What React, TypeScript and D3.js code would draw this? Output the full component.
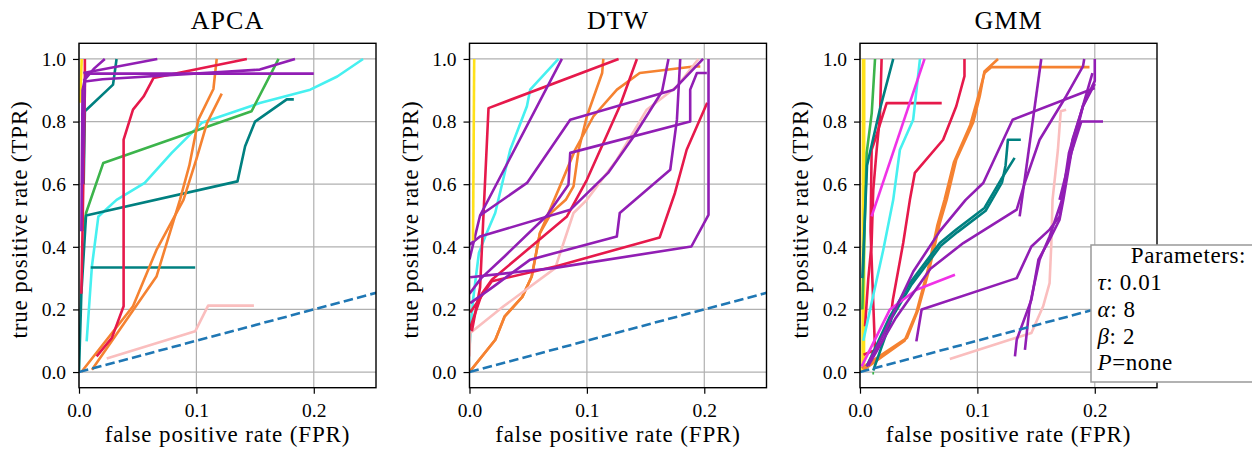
import React, { useEffect, useRef } from 'react';
import * as d3 from 'd3';

type Curve = { c: string; pts: [number, number][] };

const panelTitles = ['APCA', 'DTW', 'GMM'];
const xTicks = [0, 0.1, 0.2];
const yTicks = [0, 0.2, 0.4, 0.6, 0.8, 1.0];
const xLabel = 'false positive rate (FPR)';
const yLabel = 'true positive rate (TPR)';
const chanceLine: [number, number][] = [[0, 0], [0.26, 0.26]];

// legend text: [italic symbol, rest]
const paramRows: [string, string][] = [
  ['τ', ': 0.01'],
  ['α', ': 8'],
  ['β', ': 2'],
  ['P', '=none'],
];

const palette: Record<string, string> = {
  yellow: '#ffe119',
  red: '#e6194b',
  orange: '#f58231',
  cyan: '#46f0f0',
  green: '#3cb44b',
  teal: '#008080',
  purple: '#911eb4',
  pink: '#fabebe',
  magenta: '#f032e6',
};

const apcaCurves: Curve[] = [
  { c: 'cyan', pts: [[0.0065, 0.098], [0.011, 0.338], [0.0165, 0.497], [0.032, 0.55], [0.056, 0.604], [0.079, 0.70], [0.1046, 0.796], [0.154, 0.859], [0.197, 0.902], [0.22, 0.944], [0.242, 1.0]] },
  { c: 'green', pts: [[0.004, 0.45], [0.006, 0.508], [0.0207, 0.668], [0.147, 0.833], [0.17, 1.0]] },
  { c: 'teal', pts: [[0, 0], [0.002, 0.25], [0.006, 0.5], [0.135, 0.609], [0.1415, 0.721], [0.15, 0.80], [0.177, 0.871], [0.183, 0.871]] },
  { c: 'teal', pts: [[0.004, 0.6], [0.005, 0.833], [0.029, 0.918], [0.032, 1.0]] },
  { c: 'teal', pts: [[0.01, 0.334], [0.099, 0.334]] },
  { c: 'orange', pts: [[0.002, 0.0], [0.046, 0.21], [0.066, 0.39], [0.089, 0.55], [0.1, 0.68], [0.109, 0.795], [0.1216, 0.889]] },
  { c: 'orange', pts: [[0.011, 0.007], [0.066, 0.305], [0.086, 0.55], [0.094, 0.66], [0.1017, 0.806], [0.1145, 0.904], [0.1173, 1.0]] },
  { c: 'pink', pts: [[0.0236, 0.043], [0.099, 0.13], [0.11, 0.212], [0.149, 0.212]] },
  { c: 'red', pts: [[0.002, 0.25], [0.003, 0.45], [0.005, 0.9], [0.005, 1.0]] },
  { c: 'red', pts: [[0.015, 0.05], [0.028, 0.109], [0.038, 0.21], [0.038, 0.742], [0.046, 0.838], [0.055, 0.88], [0.0634, 0.939], [0.143, 1.0]] },
  { c: 'yellow', pts: [[0.001, 0.86], [0.0023, 1.0]] },
  { c: 'purple', pts: [[0.002, 0.45], [0.003, 0.9], [0.006, 0.953], [0.2, 0.953]] },
  { c: 'purple', pts: [[0.003, 0.6], [0.005, 0.928], [0.02, 0.935], [0.154, 0.966], [0.184, 1.0]] },
  { c: 'purple', pts: [[0.0037, 0.955], [0.0667, 1.0]] },
  { c: 'purple', pts: [[0.004, 0.93], [0.013, 0.97], [0.022, 1.0]] },
];

const dtwCurves: Curve[] = [
  { c: 'cyan', pts: [[0.0, 0.08], [0.003, 0.23], [0.008, 0.38], [0.0134, 0.433], [0.0219, 0.508], [0.0347, 0.71], [0.0489, 0.849], [0.0517, 0.902], [0.0758, 1.0]] },
  { c: 'orange', pts: [[0, 0], [0.022, 0.103], [0.03, 0.178], [0.045, 0.24], [0.053, 0.305], [0.06, 0.444], [0.07, 0.51], [0.082, 0.55], [0.0886, 0.593], [0.093, 0.71], [0.1, 0.817], [0.113, 0.955], [0.114, 1.0]] },
  { c: 'orange', pts: [[0, 0], [0.022, 0.103], [0.03, 0.178], [0.045, 0.24], [0.053, 0.305], [0.06, 0.444], [0.063, 0.47], [0.077, 0.593], [0.09, 0.71], [0.1056, 0.817], [0.1256, 0.902], [0.145, 0.955], [0.191, 0.976], [0.1966, 0.976]] },
  { c: 'pink', pts: [[0, 0.05], [0.0006, 0.125], [0.029, 0.21], [0.073, 0.332], [0.0886, 0.508], [0.1, 0.55], [0.1255, 0.678], [0.151, 0.838], [0.1767, 0.912], [0.195, 1.0]] },
  { c: 'red', pts: [[0.002, 0.13], [0.009, 0.27], [0.0162, 0.843], [0.127, 1.0]] },
  { c: 'red', pts: [[0.0, 0.135], [0.0105, 0.25], [0.019, 0.295], [0.083, 0.497], [0.1, 0.614], [0.128, 0.849], [0.1426, 1.0]] },
  { c: 'red', pts: [[0.0006, 0.19], [0.019, 0.29], [0.074, 0.338], [0.162, 0.43], [0.175, 0.572], [0.185, 0.71], [0.2025, 0.86]] },
  { c: 'purple', pts: [[0.0, 0.36], [0.009, 0.5], [0.0787, 1.0]] },
  { c: 'purple', pts: [[0.009, 0.5], [0.049, 0.604], [0.0858, 0.806], [0.174, 0.902], [0.199, 1.0]] },
  { c: 'purple', pts: [[0.0006, 0.22], [0.0204, 0.273], [0.0517, 0.359], [0.1255, 0.433], [0.128, 0.508], [0.171, 0.646], [0.1767, 0.806], [0.1795, 1.0]] },
  { c: 'purple', pts: [[0.0006, 0.303], [0.0716, 0.332], [0.189, 0.401], [0.2036, 0.502], [0.2036, 1.0]] },
  { c: 'purple', pts: [[0.0, 0.25], [0.01, 0.3], [0.03, 0.37], [0.066, 0.5], [0.0843, 0.598], [0.0858, 0.70], [0.188, 0.80], [0.188, 0.902], [0.1937, 0.955], [0.2022, 0.955]] },
  { c: 'purple', pts: [[0, 0.407], [0.009, 0.433], [0.0858, 0.518], [0.118, 0.636], [0.14, 0.753], [0.164, 0.896], [0.1695, 1.0]] },
  { c: 'yellow', pts: [[0.003, 0.42], [0.004, 1.0]] },
];

const gmmCurves: Curve[] = [
  { c: 'yellow', pts: [[0.0022, 0.0], [0.0026, 1.0]] },
  { c: 'yellow', pts: [[0.0034, 0.0], [0.0036, 1.0]] },
  { c: 'green', pts: [[0.002, 0.2], [0.0057, 0.70], [0.01, 0.827], [0.0128, 1.0]] },
  { c: 'green', pts: [[0.0105, -0.004], [0.012, -0.004]] },
  { c: 'red', pts: [[0.0043, 0.146], [0.007, 0.295], [0.0099, 0.412], [0.0113, 0.582], [0.0142, 0.71], [0.017, 0.817], [0.0184, 1.0]] },
  { c: 'red', pts: [[0.003, 0.055], [0.0128, 0.07], [0.009, 0.45], [0.0099, 0.71], [0.0128, 0.742], [0.0227, 0.859], [0.0696, 0.859]] },
  { c: 'red', pts: [[0.027, 0.2], [0.028, 0.231], [0.0368, 0.412], [0.0425, 0.55], [0.0467, 0.636], [0.0708, 0.742], [0.082, 0.849], [0.089, 0.945], [0.089, 1.0]] },
  { c: 'teal', pts: [[0.002, 0.3], [0.006, 0.66], [0.017, 0.84], [0.0283, 1.0]] },
  { c: 'cyan', pts: [[0.0028, 0.1], [0.0198, 0.39], [0.0283, 0.55], [0.034, 0.71], [0.0453, 0.806], [0.0511, 1.0]] },
  { c: 'orange', pts: [[0.0014, 0.013], [0.04, 0.109], [0.0496, 0.2], [0.0596, 0.337], [0.068, 0.476], [0.0738, 0.55], [0.082, 0.678], [0.0963, 0.796], [0.102, 0.881], [0.106, 0.96], [0.1176, 1.0]] },
  { c: 'orange', pts: [[0.003, 0.007], [0.038, 0.1], [0.048, 0.19], [0.058, 0.33], [0.066, 0.47], [0.072, 0.55], [0.08, 0.67], [0.094, 0.79], [0.1, 0.87], [0.106, 0.955], [0.112, 0.974], [0.1955, 0.974]] },
  { c: 'teal', pts: [[0.0057, 0.018], [0.0255, 0.178], [0.0425, 0.284], [0.068, 0.412], [0.082, 0.455], [0.106, 0.524], [0.12, 0.614], [0.1317, 0.684]] },
  { c: 'teal', pts: [[0.0113, 0.005], [0.027, 0.172], [0.044, 0.28], [0.069, 0.404], [0.083, 0.447], [0.107, 0.515], [0.121, 0.606], [0.124, 0.66], [0.126, 0.742], [0.137, 0.742]] },
  { c: 'magenta', pts: [[0.0099, 0.497], [0.055, 1.0]] },
  { c: 'magenta', pts: [[0.0014, 0.018], [0.0255, 0.2], [0.048, 0.263], [0.0809, 0.311]] },
  { c: 'pink', pts: [[0.0765, 0.042], [0.146, 0.125], [0.156, 0.21], [0.1615, 0.284], [0.163, 0.412], [0.164, 0.55], [0.1686, 0.71], [0.171, 0.833], [0.1756, 0.838]] },
  { c: 'purple', pts: [[0.0057, 0.018], [0.02, 0.12], [0.0454, 0.321], [0.068, 0.45], [0.09, 0.55], [0.105, 0.604], [0.13, 0.806], [0.2, 0.907]] },
  { c: 'purple', pts: [[0.007, 0.02], [0.03, 0.17], [0.06, 0.33], [0.088, 0.412], [0.1335, 0.519], [0.14, 0.6], [0.153, 0.742], [0.1756, 0.881], [0.19, 0.977], [0.191, 1.0]] },
  { c: 'purple', pts: [[0.048, 0.098], [0.0525, 0.2], [0.1335, 0.3], [0.146, 0.401], [0.1615, 0.455], [0.17, 0.497], [0.181, 0.742], [0.19, 0.849], [0.2, 0.92]] },
  { c: 'purple', pts: [[0.136, 0.497], [0.1544, 1.0]] },
  { c: 'purple', pts: [[0.132, 0.05], [0.1335, 0.103], [0.146, 0.231], [0.152, 0.359], [0.1615, 0.423], [0.17, 0.487], [0.1732, 0.55], [0.18, 0.7], [0.19, 0.85], [0.2, 0.93], [0.2, 1.0]] },
  { c: 'purple', pts: [[0.1405, 0.071], [0.1445, 0.21], [0.153, 0.359], [0.1615, 0.433], [0.172, 0.55], [0.178, 0.7], [0.186, 0.8], [0.198, 0.955]] },
  { c: 'purple', pts: [[0.17, 0.55], [0.18, 0.7], [0.1885, 0.8], [0.207, 0.8]] },
];

const panelCurves = [apcaCurves, dtwCurves, gmmCurves];

const FONT = '"Liberation Serif", "Times New Roman", serif';

export default function App() {
  const svgRef = useRef<SVGSVGElement>(null);

  useEffect(() => {
    const svg = d3.select(svgRef.current);
    svg.selectAll('*').remove();

    const top = 43.3;
    const W = 297;
    const H = 344.4;
    const lefts = [79, 469.5, 860];

    const x = d3.scaleLinear().domain([0, 0.253]).range([0, W]);
    const y = d3.scaleLinear().domain([-0.05, 1.05]).range([H, 0]);
    const line = d3.line<[number, number]>().x((d) => x(d[0])).y((d) => y(d[1]));

    panelTitles.forEach((title, i) => {
      const g = svg.append('g').attr('transform', `translate(${lefts[i]},${top})`);

      g.append('defs').append('clipPath').attr('id', `clip${i}`)
        .append('rect').attr('width', W).attr('height', H);

      // grid
      g.append('g').selectAll('line').data(xTicks).enter().append('line')
        .attr('x1', (d) => x(d)).attr('x2', (d) => x(d)).attr('y1', 0).attr('y2', H)
        .attr('stroke', '#b0b0b0').attr('stroke-width', 1.2);
      g.append('g').selectAll('line').data(yTicks).enter().append('line')
        .attr('y1', (d) => y(d)).attr('y2', (d) => y(d)).attr('x1', 0).attr('x2', W)
        .attr('stroke', '#b0b0b0').attr('stroke-width', 1.2);

      const plot = g.append('g').attr('clip-path', `url(#clip${i})`);
      plot.selectAll('path.curve').data(panelCurves[i]).enter().append('path')
        .attr('class', 'curve')
        .attr('d', (d) => line(d.pts))
        .attr('fill', 'none')
        .attr('stroke', (d) => palette[d.c])
        .attr('stroke-width', 2.6)
        .attr('stroke-linejoin', 'round');

      plot.append('path')
        .attr('d', line(chanceLine))
        .attr('fill', 'none')
        .attr('stroke', '#1f77b4')
        .attr('stroke-width', 2.6)
        .attr('stroke-dasharray', '9.5,4.2');

      // axes
      const xAxis = d3.axisBottom(x).tickValues(xTicks).tickFormat(d3.format('.1f')).tickSize(6).tickPadding(9);
      const yAxis = d3.axisLeft(y).tickValues(yTicks).tickFormat(d3.format('.1f')).tickSize(6).tickPadding(7);
      const gx = g.append('g').attr('transform', `translate(0,${H})`).call(xAxis);
      const gy = g.append('g').call(yAxis);
      [gx, gy].forEach((a) => {
        a.select('.domain').remove();
        a.selectAll('line').attr('stroke', '#000').attr('stroke-width', 1.2);
        a.selectAll('text').attr('fill', '#000').style('font-family', FONT).style('font-size', '19.5px');
      });

      g.append('rect').attr('width', W).attr('height', H)
        .attr('fill', 'none').attr('stroke', '#000').attr('stroke-width', 1.4);

      g.append('text').attr('x', W / 2).attr('y', 29 - top)
        .attr('text-anchor', 'middle').style('font-family', FONT).style('font-size', '26px')
        .style('letter-spacing', '1px')
        .text(title);

      g.append('text').attr('x', W / 2).attr('y', 442 - top)
        .attr('text-anchor', 'middle').style('font-family', FONT).style('font-size', '23px')
        .style('letter-spacing', '0.85px')
        .text(xLabel);

      g.append('text')
        .attr('transform', `translate(${-52},${H / 2 + 4}) rotate(-90)`)
        .attr('text-anchor', 'middle').style('font-family', FONT).style('font-size', '23px')
        .style('letter-spacing', '0.85px')
        .text(yLabel);
    });

    // parameter box on the GMM panel
    const lg = svg.append('g');
    lg.append('rect').attr('x', 1091).attr('y', 245).attr('width', 180).attr('height', 137)
      .attr('fill', '#fff').attr('stroke', '#999').attr('stroke-width', 1.5);
    lg.append('text').attr('x', 1246).attr('y', 263).attr('text-anchor', 'end')
      .style('font-family', FONT).style('font-size', '23px').style('letter-spacing', '0.6px')
      .text('Parameters:');
    const rowY = [290, 317, 343.5, 370];
    paramRows.forEach(([sym, rest], k) => {
      const t = lg.append('text').attr('x', 1097.5).attr('y', rowY[k])
        .style('font-family', FONT).style('font-size', '23px').style('letter-spacing', '0.6px');
      t.append('tspan').style('font-style', 'italic').text(sym);
      t.append('tspan').text(rest);
    });
  }, []);

  return (
    <svg
      ref={svgRef}
      width={1252}
      height={451}
      style={{ position: 'absolute', left: 0, top: 0, background: '#fff' }}
    />
  );
}
